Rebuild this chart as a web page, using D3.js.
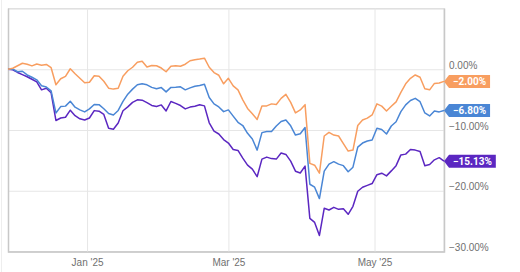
<!DOCTYPE html>
<html>
<head>
<meta charset="utf-8">
<script src="https://cdn.jsdelivr.net/npm/d3@7/dist/d3.min.js"></script>
<style>
  body { margin: 0; background: #fff; }
  svg { display: block; font-family: Roboto, sans-serif; }
</style>
</head>
<body>
<div id="canvas"></div>
<script>
const dates = [
  '2024-11-29','2024-12-01','2024-12-03','2024-12-05','2024-12-07','2024-12-09','2024-12-11','2024-12-13',
  '2024-12-15','2024-12-17','2024-12-19','2024-12-21','2024-12-23','2024-12-25','2024-12-27','2024-12-29',
  '2024-12-31','2025-01-02','2025-01-04','2025-01-06','2025-01-08','2025-01-10','2025-01-12','2025-01-14',
  '2025-01-16','2025-01-18','2025-01-20','2025-01-22','2025-01-24','2025-01-26','2025-01-28','2025-01-30',
  '2025-02-01','2025-02-03','2025-02-05','2025-02-07','2025-02-09','2025-02-11','2025-02-13','2025-02-15',
  '2025-02-17','2025-02-19','2025-02-21','2025-02-23','2025-02-25','2025-02-27','2025-03-01','2025-03-03',
  '2025-03-05','2025-03-07','2025-03-09','2025-03-11','2025-03-13','2025-03-15','2025-03-17','2025-03-19',
  '2025-03-21','2025-03-23','2025-03-25','2025-03-27','2025-03-29','2025-03-31','2025-04-02','2025-04-04',
  '2025-04-06','2025-04-08','2025-04-10','2025-04-12','2025-04-14','2025-04-16','2025-04-18','2025-04-20',
  '2025-04-22','2025-04-24','2025-04-26','2025-04-28','2025-04-30','2025-05-02','2025-05-04','2025-05-06',
  '2025-05-08','2025-05-10','2025-05-12','2025-05-14','2025-05-16','2025-05-18','2025-05-20','2025-05-22',
  '2025-05-24','2025-05-26','2025-05-28','2025-05-30'
];

const orangeValues = [
  0, 0.17, 0.58, 0.99, 0.83, 0.55, 0.86, 0.66, 0.79, 0.25, -2.56, -1.57, -1.16, 0.08, -0.74, -1.49,
  -2.23, -2.15, -1.07, -1.16, -1.98, -3.11, -3.27, -3.14, -1.16, -0.25, 0.33, 1.16, 1.32, 0.36, 0.61, 0.58,
  0.20, -0.41, 0.50, 0.58, 0.50, 0.83, 1.40, 1.57, 1.67, 1.82, 0.33, -0.55, -0.99, -2.40, -1.49, -2.73,
  -3.39, -5.04, -6.45, -7.31, -8.28, -6.03, -6.03, -5.70, -5.79, -4.79, -4.13, -5.45, -7.19, -6.69, -5.83, -15.50,
  -15.79, -17.10, -10.99, -10.38, -10.83, -10.99, -12.23, -13.47, -13.31, -9.26, -8.35, -8.05, -7.52, -5.70, -6.07, -6.86,
  -6.10, -5.37, -3.80, -2.40, -1.49, -0.94, -1.32, -3.22, -3.39, -2.33, -2.25, -2.00
];

const blueValues = [
  0, 0.03, -0.41, -0.33, -0.94, -1.32, -1.74, -2.73, -2.93, -3.55, -7.19, -6.15, -6.07, -5.26, -6.25, -6.69,
  -7.02, -6.53, -5.80, -5.83, -6.50, -7.27, -7.52, -6.78, -5.29, -4.10, -3.27, -2.56, -2.40, -2.56, -2.98, -3.22,
  -3.02, -3.72, -2.99, -2.96, -2.89, -3.39, -3.06, -2.81, -2.66, -2.48, -4.66, -5.70, -6.20, -6.98, -6.69, -7.72,
  -8.73, -9.26, -10.55, -11.49, -13.31, -10.43, -10.25, -10.25, -9.34, -8.60, -8.35, -9.31, -10.83, -10.63, -9.59, -18.93,
  -19.42, -21.29, -16.78, -15.62, -15.21, -15.62, -15.87, -16.86, -16.12, -12.81, -12.15, -11.82, -11.65, -9.72, -9.92, -10.66,
  -9.34, -8.64, -6.98, -5.87, -5.14, -4.79, -5.34, -7.19, -7.69, -6.86, -7.02, -6.80
];

const purpleValues = [
  0, -0.08, -0.53, -0.88, -1.24, -1.65, -2.07, -3.39, -3.12, -3.88, -8.43, -8.02, -7.90, -6.74, -7.65, -8.15,
  -8.35, -8.02, -6.81, -6.91, -7.44, -9.72, -9.87, -8.84, -6.83, -6.20, -5.45, -5.04, -5.09, -5.49, -5.95, -6.12,
  -5.87, -6.86, -5.31, -5.62, -5.97, -6.53, -6.23, -6.08, -5.85, -6.03, -8.81, -10.17, -10.66, -11.57, -12.15, -13.22,
  -13.36, -14.63, -15.79, -16.45, -17.69, -14.79, -14.46, -14.71, -14.79, -13.80, -14.02, -15.12, -16.78, -17.07, -15.95, -24.55,
  -25.21, -27.36, -22.89, -23.17, -22.73, -23.06, -22.98, -23.88, -22.56, -20.08, -19.42, -19.12, -18.81, -17.36, -17.11, -17.55,
  -16.73, -15.87, -14.10, -13.97, -13.22, -13.31, -13.55, -15.88, -15.67, -14.91, -14.55, -15.13
];

const yTicks = [0, -10, -20, -30];
const xTickDates = ['2025-01-01', '2025-03-01', '2025-05-01'];
const xTickLabels = ["Jan '25", "Mar '25", "May '25"];

const W = 520, H = 272;
const plotLeft = 8, plotRight = 444, plotTop = 8.5, plotBottom = 251.5;
const parse = d3.timeParse('%Y-%m-%d');

const series = [
  { values: purpleValues, color: '#5b27c1' },
  { values: blueValues, color: '#4a86d5' },
  { values: orangeValues, color: '#f89e60' }
];

const Svg = d3.select('#canvas').append('svg')
  .attr('width', W)
  .attr('height', H);

const xScale = d3.scaleTime()
  .domain([parse(dates[0]), parse(dates[dates.length - 1])])
  .range([plotLeft, plotRight]);

const yScale = d3.scaleLinear()
  .domain([-30, 10])
  .range([plotBottom, plotTop]);

// outer card edge
Svg.append('line')
  .attr('x1', 1.5).attr('x2', 1.5)
  .attr('y1', 0).attr('y2', H)
  .attr('stroke', '#eeeeee');

Svg.append('rect')
  .attr('x', plotLeft + 0.5)
  .attr('y', plotTop)
  .attr('width', plotRight - plotLeft - 0.5)
  .attr('height', plotBottom - plotTop)
  .attr('fill', 'none')
  .attr('stroke', '#e4e4e4');

const yAxis = d3.axisRight(yScale)
  .tickValues(yTicks)
  .tickSize(-(plotRight - plotLeft))
  .tickPadding(5)
  .tickFormat(d => d3.format('.2f')(d) + '%');

const gy = Svg.append('g')
  .attr('transform', `translate(${plotRight}, 0)`)
  .call(yAxis);
gy.select('.domain').attr('stroke', '#dcdcdc');
gy.selectAll('.tick line').attr('stroke', '#e6e6e6');
gy.selectAll('.tick text')
  .attr('fill', '#707070')
  .attr('font-size', '10px')
  .attr('dy', '-0.08em');

const xAxis = d3.axisBottom(xScale)
  .tickValues(xTickDates.map(parse))
  .tickFormat((d, i) => xTickLabels[i])
  .tickSize(-(plotBottom - plotTop))
  .tickPadding(7);

const gx = Svg.append('g')
  .attr('transform', `translate(0, ${plotBottom})`)
  .call(xAxis);
gx.select('.domain').attr('stroke', '#c8c8c8').attr('stroke-width', 1.5);
gx.selectAll('.tick line').attr('stroke', '#e6e6e6');
gx.selectAll('.tick text')
  .attr('fill', '#707070')
  .attr('font-size', '10px');

const line = d3.line()
  .x((d, i) => xScale(parse(dates[i])))
  .y(d => yScale(d));

series.forEach(s => {
  Svg.append('path')
    .attr('d', line(s.values))
    .attr('fill', 'none')
    .attr('stroke', s.color)
    .attr('stroke-width', 1.5)
    .attr('stroke-linejoin', 'round');
});

// end value tags
const tagH = 13, arrow = 5;
series.forEach(s => {
  const last = s.values[s.values.length - 1];
  const tx = xScale(parse(dates[dates.length - 1]));
  const ty = yScale(last);
  const g = Svg.append('g');
  const path = g.append('path').attr('fill', s.color);
  const text = g.append('text')
    .text(d3.format('.2f')(last) + '%')
    .attr('x', tx + arrow + 4)
    .attr('y', ty)
    .attr('dy', '0.35em')
    .attr('fill', '#fff')
    .attr('font-size', '10px')
    .attr('font-weight', 'bold');
  const w = text.node().getComputedTextLength() + 8;
  const bx = tx + arrow;
  path.attr('d', `M${tx},${ty} L${bx},${ty - tagH / 2} L${bx + w},${ty - tagH / 2} L${bx + w},${ty + tagH / 2} L${bx},${ty + tagH / 2} Z`);
});
</script>
</body>
</html>
